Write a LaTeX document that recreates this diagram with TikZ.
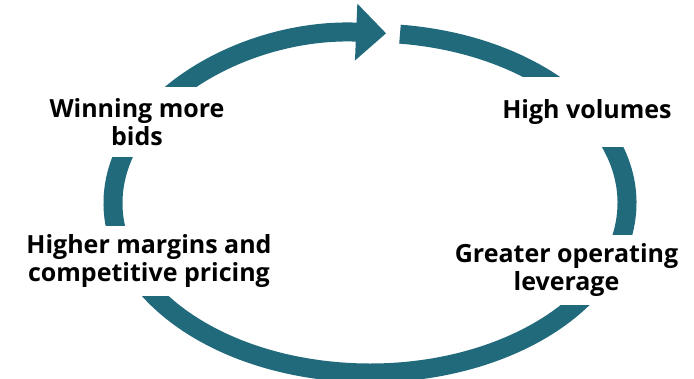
\documentclass[tikz,border=0pt]{standalone}
\usepackage{fontspec}
\setsansfont{Open Sans}
\usetikzlibrary{arrows.meta,calc}
\definecolor{ringteal}{RGB}{33,106,124}
\tikzstyle{ring}=[draw=ringteal,
                  line width=19pt,
                  -{Triangle[width=55pt,length=30pt]}]
\tikzstyle{lbl}=[fill=white,
                 font=\sffamily\bfseries\fontsize{25}{28}\selectfont,
                 align=center,
                 minimum height=70pt,
                 inner sep=1pt]
\begin{document}
\begin{tikzpicture}[x=1pt,y=1pt]
\useasboundingbox (0,0) rectangle (694,379);

% ring
\coordinate (c) at (370,176);
\coordinate (start) at ($(c)+(83.3:257pt and 170pt)$);
\draw[ring] (start) arc[start angle=83.3, end angle=-273.6, x radius=257pt, y radius=170pt];

% labels
\node[lbl] (hv) at (587,266.5) {High volumes};
\node[lbl] (gol) at (566.5,109) {Greater operating\\leverage};
\node[lbl] (hmp) at (149,117.5) {Higher margins and\\competitive pricing};
\node[lbl] (wmb) at (137,256.5) {Winning more\\bids};

\end{tikzpicture}
\end{document}
